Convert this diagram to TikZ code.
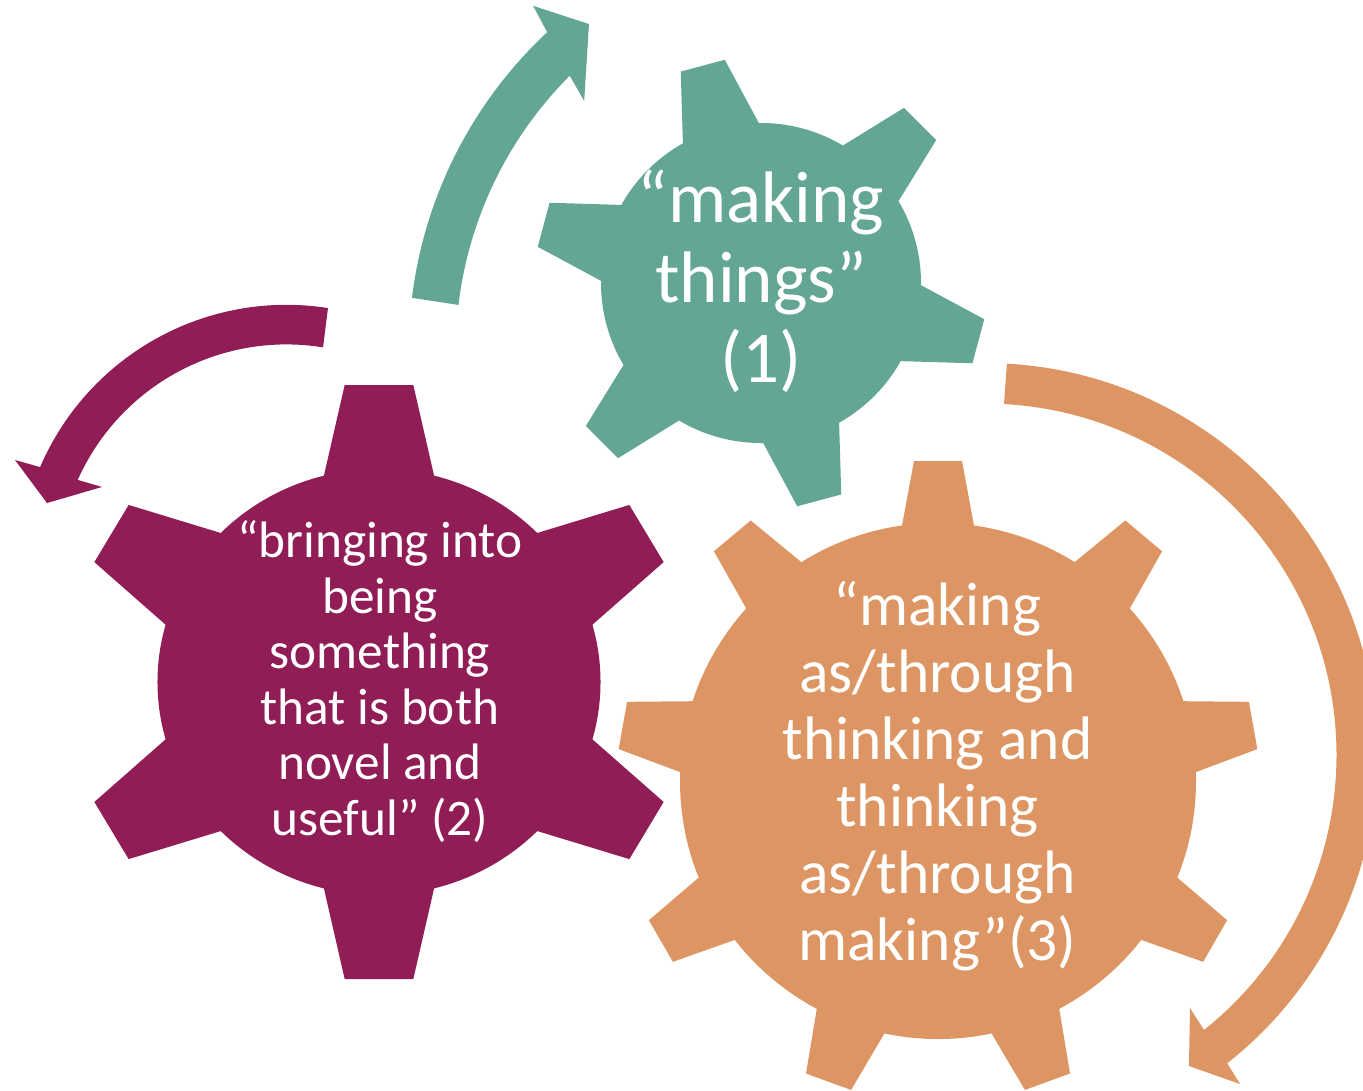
\documentclass[tikz,border=0pt]{standalone}
\usepackage{fontspec}
\setmainfont{Carlito}
\definecolor{gteal}{HTML}{63A694}
\definecolor{gpurple}{HTML}{911D56}
\definecolor{gorange}{HTML}{DD9663}
\tikzset{
  geartext/.style={text=white, align=center, inner sep=0pt},
}
\begin{document}
\begin{tikzpicture}
\useasboundingbox (0,0) rectangle (13.63,-10.90);
\clip (0,0) rectangle (13.63,-10.90);

% ---- teal gear (1)
\begin{scope}[shift={(7.61,-2.83)}]
  \fill[gteal] (0,0) circle[radius=1.60];
  \foreach \a in {105,165,225,285,345,405}
    \fill[gteal,rotate=\a] (1.00,-0.523) -- (2.25,-0.228) -- (2.25,0.228) -- (1.00,0.523) -- cycle;
\end{scope}

% ---- purple gear (2)
\begin{scope}[shift={(3.79,-6.82)},xscale=1.04]
  \fill[gpurple] (0,0) circle[radius=2.13];
  \foreach \a in {90,150,210,270,330,390}
    \fill[gpurple,rotate=\a] (1.20,-0.72) -- (2.97,-0.33) -- (2.97,0.33) -- (1.20,0.72) -- cycle;
\end{scope}

% ---- orange gear (3)
\begin{scope}[shift={(9.38,-7.81)}]
  \fill[gorange] (0,0) circle[radius=2.58];
  \foreach \a in {90,130,170,210,250,290,330,370,410}
    \fill[gorange,rotate=\a] (1.50,-0.556) -- (3.20,-0.24) -- (3.20,0.24) -- (1.50,0.556) -- cycle;
\end{scope}

% ---- teal arrow
\begin{scope}[shift={(8.45,-3.51)}]
  \fill[gteal] (173:4.363) arc[start angle=173, end angle=133.05, radius=4.363]
    -- (132.1:4.652) -- (128.06:4.153) -- (136.2:3.614)
    -- (135:3.893) arc[start angle=135, end angle=173.2, radius=3.893] -- cycle;
\end{scope}

% ---- purple arrow
\begin{scope}[shift={(2.865,-5.73)}]
  \fill[gpurple] (81.1:2.682) arc[start angle=81.1, end angle=156.73, radius=2.682]
    -- (157.4:2.941) -- (163.7:2.495) -- (155.0:2.036)
    -- (155.96:2.286) arc[start angle=155.96, end angle=80.8, radius=2.286] -- cycle;
\end{scope}

% ---- orange arrow
\begin{scope}[shift={(9.85,-7.55)}]
  \fill[gorange] (86.8:3.92) arc[start angle=86.8, end angle=-51.84, radius=3.92]
    -- (-52.22:4.163) -- (-56.74:3.719) -- (-50.98:3.256)
    -- (-51.47:3.515) arc[start angle=-51.47, end angle=86.9, radius=3.515] -- cycle;
\end{scope}

% ---- texts
\node[geartext, font=\fontsize{0.73cm}{0.80cm}\selectfont] (t1) at (7.61,-2.865)
  {\strut“making\\things”\\(1)\strut};
\node[geartext, font=\fontsize{0.513cm}{0.555cm}\selectfont] (t2) at (3.80,-6.854)
  {\strut“bringing into\\being\\something\\that is both\\novel and\\useful” (2)\strut};
\node[geartext, font=\fontsize{0.614cm}{0.67cm}\selectfont] (t3) at (9.375,-7.791)
  {\strut“making\\as/through\\thinking and\\thinking\\as/through\\making”(3)\strut};
\end{tikzpicture}
\end{document}
